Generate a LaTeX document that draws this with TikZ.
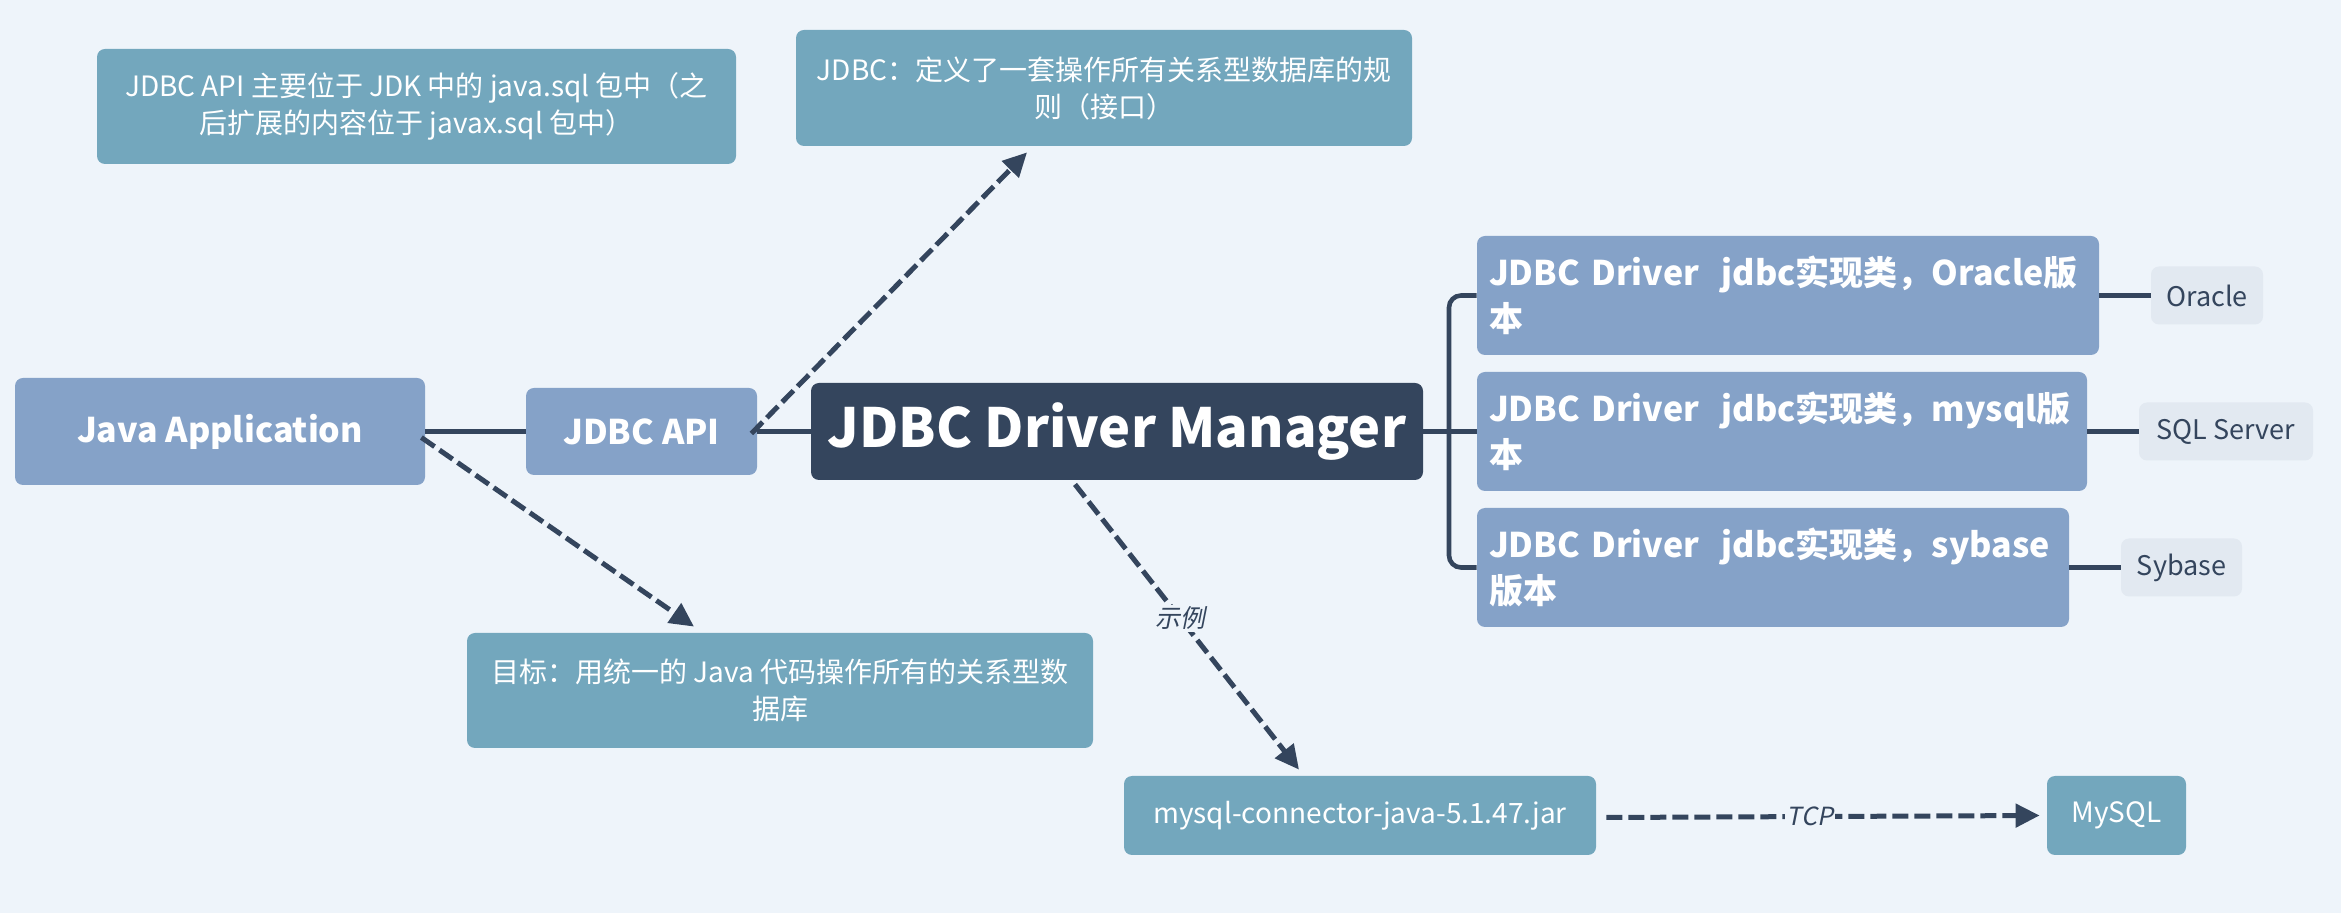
\documentclass[tikz,border=0pt]{standalone}
\usepackage{fontspec}
\setmainfont{Noto Sans CJK SC}
\newfontfamily\slfont{Noto Sans CJK SC}[FakeSlant=0.2]
\usetikzlibrary{arrows.meta,calc}
\definecolor{bgc}{HTML}{EEF4FA}
\definecolor{tealc}{HTML}{73A7BD}
\definecolor{bluec}{HTML}{85A2C8}
\definecolor{darkc}{HTML}{34455D}
\definecolor{leafc}{HTML}{E2E9F1}
\tikzset{
  box/.style={rounded corners=4pt, inner sep=0pt, text=white},
  tealbox/.style={box, fill=tealc, font=\fontsize{14}{18.5}\selectfont, align=center},
  bluebox/.style={box, fill=bluec, font=\bfseries\fontsize{17}{23}\selectfont},
  drvbox/.style={bluebox, align=left, text width=#1, inner xsep=6pt},
  leafbox/.style={box, fill=leafc, text=darkc, font=\fontsize{13.5}{16}\selectfont},
  solidln/.style={draw=darkc, line width=2.3pt},
  dasharr/.style={draw=darkc, line width=2.5pt, dash pattern=on 8pt off 3pt, -{Triangle[length=12pt,width=11.5pt]}},
  edgelbl/.style={fill=bgc, inner sep=1pt, text=darkc, font=\slfont\fontsize{12.5}{14}\selectfont}
}
\begin{document}
\begin{tikzpicture}[x=0.5pt,y=-0.5pt]
\fill[bgc] (0,0) rectangle (2341,913);
\useasboundingbox (0,0) rectangle (2341,913);

\node[tealbox, minimum width=319.5pt, minimum height=57.5pt] (A) at (416.5,106.5) {JDBC API 主要位于 JDK 中的 java.sql 包中（之\\后扩展的内容位于 javax.sql 包中）};
\node[tealbox, minimum width=308pt, minimum height=58pt] (B) at (1104,88) {JDBC：定义了一套操作所有关系型数据库的规\\则（接口）};
\node[bluebox, minimum width=205pt, minimum height=53.5pt] (JA) at (220,431.5) {Java Application};
\node[bluebox, minimum width=115.5pt, minimum height=43.5pt] (API) at (641.5,431.5) {JDBC API};
\node[box, fill=darkc, font=\bfseries\fontsize{27}{30}\selectfont, minimum width=306pt, minimum height=48.5pt] (DM) at (1117,431.5) {JDBC Driver Manager};

\node[drvbox=299pt, minimum height=59.5pt] (D1) at (1788,295.5) {\mbox{JDBC Driver~~jdbc实现类，Oracle版}\\本};
\node[drvbox=293pt, minimum height=59.5pt] (D2) at (1782,431.5) {\mbox{JDBC Driver~~jdbc实现类，mysql版}\\本};
\node[drvbox=284pt, minimum height=59.5pt] (D3) at (1773,567.5) {\mbox{JDBC Driver~~jdbc实现类，sybase}\\版本};

\node[leafbox, minimum width=56pt, minimum height=29pt] (L1) at (2207,295.5) {Oracle};
\node[leafbox, minimum width=87pt, minimum height=29pt] (L2) at (2226,431.5) {SQL Server};
\node[leafbox, minimum width=60.5pt, minimum height=29pt] (L3) at (2181.5,567.5) {Sybase};

\node[tealbox, minimum width=313pt, minimum height=57.5pt] (G) at (780,690.5) {目标：用统一的 Java 代码操作所有的关系型数\\据库};
\node[tealbox, minimum width=236pt, minimum height=39.5pt] (MC) at (1360,815.5) {mysql-connector-java-5.1.47.jar};
\node[tealbox, minimum width=69.5pt, minimum height=39.5pt] (MY) at (2116.5,815.5) {MySQL};

% solid connectors
\draw[solidln] (JA.east) -- (API.west);
\draw[solidln] (API.east) -- (DM.west);
\draw[solidln] (DM.east) -- (D2.west);
\coordinate (bx) at (1449,567.5);
\draw[solidln, rounded corners=6pt] (D1.west) -| (bx) -- (D3.west);
\draw[solidln] (D1.east) -- (L1.west);
\draw[solidln] (D2.east) -- (L2.west);
\draw[solidln] (D3.east) -- (L3.west);

% dashed arrows
\draw[dasharr] ($(API.east)+(-6,2)$) -- ($(B.south)+(-77,6)$);
\draw[dasharr] ($(JA.east)+(-4,6)$) -- ($(G.north)+(-86,-6)$);
\draw[dasharr] ($(DM.south)+(-42,4)$) -- node[edgelbl, pos=0.47] {示例} ($(MC.north)+(-61,-6)$);
\draw[dasharr] ($(MC.east)+(10,2)$) -- node[edgelbl, pos=0.47] {TCP} ($(MY.west)+(-7,0)$);
\end{tikzpicture}
\end{document}
